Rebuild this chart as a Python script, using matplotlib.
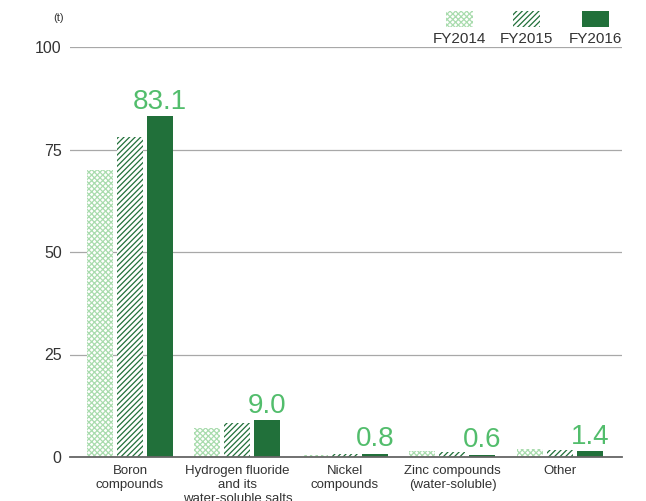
import matplotlib
matplotlib.use("Agg")
import matplotlib.pyplot as plt
import numpy as np
from matplotlib.patches import Rectangle

plt.rcParams['font.family'] = ['Liberation Sans', 'DejaVu Sans']
plt.rcParams['hatch.linewidth'] = 0.9

categories = ["Boron\ncompounds",
              "Hydrogen fluoride\nand its\nwater-soluble salts",
              "Nickel\ncompounds",
              "Zinc compounds\n(water-soluble)",
              "Other"]
years = ["FY2014", "FY2015", "FY2016"]
fy2014 = [70.0, 7.1, 0.6, 1.4, 2.0]
fy2015 = [78.0, 8.2, 0.7, 1.2, 1.7]
fy2016 = [83.1, 9.0, 0.8, 0.6, 1.4]
yticks = [0, 25, 50, 75, 100]

dark = "#21703a"
light = "#a9dcae"
label_green = "#52bd6c"
grid_gray = "#a8a8a8"
text_gray = "#333333"

fig = plt.figure(figsize=(6.46, 5.01), dpi=100)
ax = fig.add_axes([70 / 646, 44 / 501, 552 / 646, 410 / 501])

x = np.arange(len(categories))
w = 0.242
step = 0.279

styles = [
    dict(facecolor="white", edgecolor=light, hatch="xxxxxx", linewidth=0),
    dict(facecolor="white", edgecolor=dark, hatch="//////", linewidth=0),
    dict(facecolor=dark, edgecolor=dark, linewidth=0),
]
series = [fy2014, fy2015, fy2016]
for i, (vals, st) in enumerate(zip(series, styles)):
    ax.bar(x + (i - 1) * step, vals, width=w, zorder=3, **st)

for xi, v in zip(x, fy2016):
    ax.text(xi + step, v + 1.8, f"{v:.1f}", ha="center", va="baseline",
            fontsize=20, color=label_green, zorder=4)

ax.set_xlim(-0.558, 4.577)
ax.set_ylim(0, 100)
ax.set_yticks(yticks)
ax.set_yticklabels([str(t) for t in yticks], fontsize=11.5, color=text_gray)
ax.yaxis.grid(True, color=grid_gray, linewidth=0.9, zorder=0)
ax.set_axisbelow(True)
ax.tick_params(axis="y", length=0, pad=6)
ax.tick_params(axis="x", length=0, pad=6)
ax.set_xticks(x)
ax.set_xticklabels(categories, fontsize=9.5, color=text_gray, linespacing=1.2)
for s in ["top", "right", "left"]:
    ax.spines[s].set_visible(False)
ax.spines["bottom"].set_color("#666666")
ax.spines["bottom"].set_linewidth(1.3)
ax.spines["bottom"].set_zorder(5)

fig.text(59 / 646, 1 - 18 / 501, "(t)", fontsize=8, color=text_gray,
         ha="center", va="center")

# legend swatches with labels underneath
swatch_x = [446, 513, 582]
for sx, st, name in zip(swatch_x, styles, years):
    r = Rectangle((sx / 646, 1 - 27 / 501), 27 / 646, 16 / 501,
                  transform=fig.transFigure, **st)
    fig.add_artist(r)
    fig.text((sx + 13.5) / 646, 1 - 39 / 501, name, fontsize=11,
             color=text_gray, ha="center", va="center")

fig.savefig("out.png", dpi=100)
